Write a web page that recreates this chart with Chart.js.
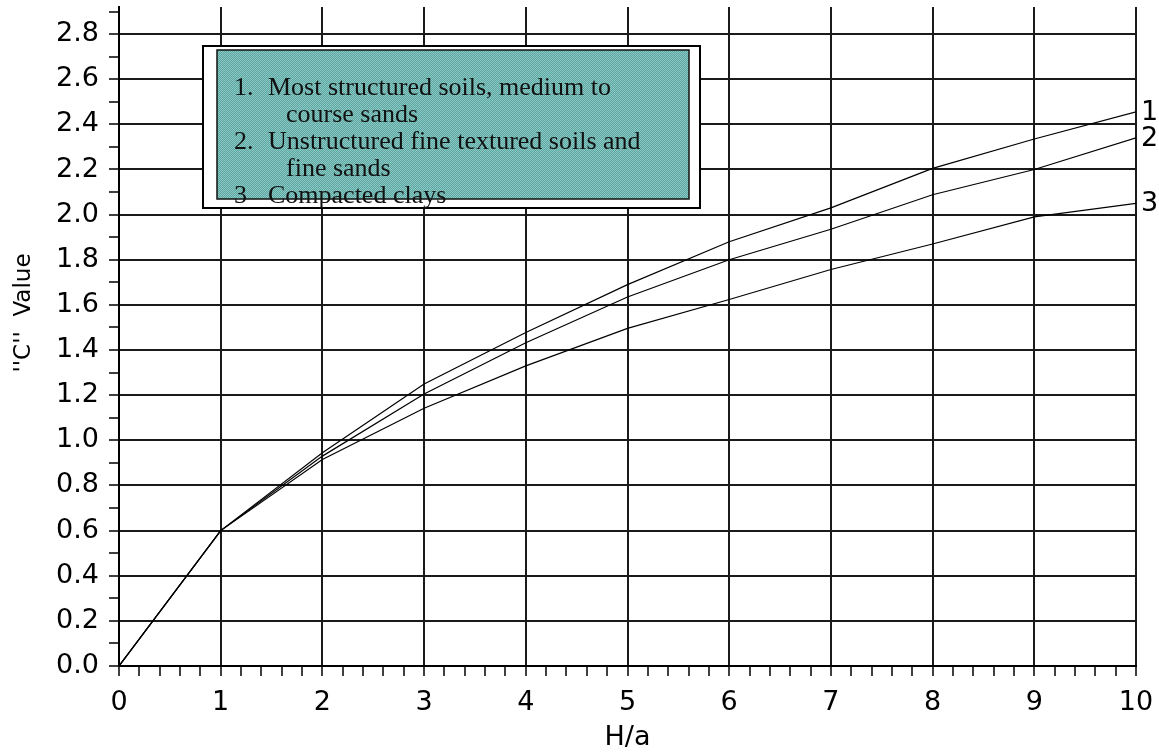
<!DOCTYPE html>
<html>
<head>
<meta charset="utf-8">
<script src="https://cdn.jsdelivr.net/npm/chart.js@4.4.1/dist/chart.umd.min.js"></script>
<style>
html,body{margin:0;padding:0;background:#fff;}
#wrap{width:1159px;height:756px;}
</style>
</head>
<body>
<div id="wrap"><canvas id="c" width="1159" height="756"></canvas></div>
<script>
// ---- data ----
const xValues = [0, 1, 2, 3, 4, 5, 6, 7, 8, 9, 10];
const curve1 = [0, 0.6, 0.945, 1.25, 1.478, 1.69, 1.88, 2.03, 2.205, 2.335, 2.455];
const curve2 = [0, 0.6, 0.93, 1.205, 1.432, 1.635, 1.80, 1.935, 2.088, 2.20, 2.34];
const curve3 = [0, 0.6, 0.915, 1.142, 1.33, 1.496, 1.624, 1.757, 1.87, 1.99, 2.05];
const curveNames = ['1', '2', '3'];
const xTickLabels = ['0','1','2','3','4','5','6','7','8','9','10'];
const yTickLabels = ['0.0','0.2','0.4','0.6','0.8','1.0','1.2','1.4','1.6','1.8','2.0','2.2','2.4','2.6','2.8'];
const xTitle = 'H/a';
const yTitle = '\'\'C\'\'  Value';
const legendLines = [
  {num: '1.', text: 'Most structured soils, medium to'},
  {num: '',   text: 'course sands', indent: true},
  {num: '2.', text: 'Unstructured fine textured soils and'},
  {num: '',   text: 'fine sands', indent: true},
  {num: '3',  text: 'Compacted clays'}
];

const series = [curve1, curve2, curve3];
const datasets = series.map((s, i) => ({
  label: curveNames[i],
  data: xValues.map((x, j) => ({x: x, y: s[j]})),
  borderColor: '#000',
  borderWidth: 1.2,
  pointRadius: 0,
  tension: 0,
  fill: false
}));

const FONT = 'DejaVu Sans';
const isMajor = (v, step) => Math.abs(v / step - Math.round(v / step)) < 1e-6;

const overlay = {
  id: 'overlay',
  afterDraw(chart) {
    const ctx = chart.ctx;
    const xs = chart.scales.x, ys = chart.scales.y;
    ctx.save();
    // curve end labels
    ctx.fillStyle = '#000';
    ctx.font = '27px "' + FONT + '"';
    ctx.textAlign = 'left';
    ctx.textBaseline = 'middle';
    series.forEach((s, i) => {
      const px = xs.getPixelForValue(xValues[xValues.length - 1]);
      const py = ys.getPixelForValue(s[s.length - 1]);
      ctx.fillText(curveNames[i], px + 5, py + 1);
    });
    // axis titles
    ctx.textAlign = 'center';
    ctx.fillText(xTitle, (xs.left + xs.right) / 2, 738);
    ctx.save();
    ctx.translate(24, 313);
    ctx.rotate(-Math.PI / 2);
    ctx.font = '23px "' + FONT + '"';
    ctx.fillText(yTitle, 0, 0);
    ctx.restore();

    // legend box
    ctx.fillStyle = '#fff';
    ctx.fillRect(203, 46, 497, 162);
    ctx.strokeStyle = '#000';
    ctx.lineWidth = 2;
    ctx.strokeRect(203, 46, 497, 162);
    const pc = document.createElement('canvas');
    pc.width = 2; pc.height = 2;
    const p = pc.getContext('2d');
    p.fillStyle = '#8acbc6'; p.fillRect(0, 0, 2, 2);
    p.fillStyle = '#5da4a0'; p.fillRect(1, 0, 1, 1); p.fillRect(0, 1, 1, 1);
    ctx.fillStyle = ctx.createPattern(pc, 'repeat');
    ctx.fillRect(217, 50, 472, 149);
    ctx.lineWidth = 1.5;
    ctx.strokeStyle = '#111';
    ctx.strokeRect(217, 50, 472, 149);
    ctx.fillStyle = '#111';
    ctx.font = '26px "Liberation Serif"';
    ctx.textAlign = 'left';
    ctx.textBaseline = 'alphabetic';
    legendLines.forEach((l, i) => {
      const by = 95 + i * 27;
      if (l.num) ctx.fillText(l.num, 234, by);
      ctx.fillText(l.text, l.indent ? 286 : 268, by);
    });
    ctx.restore();
  }
};

new Chart(document.getElementById('c'), {
  type: 'line',
  data: {datasets: datasets},
  options: {
    responsive: false,
    animation: false,
    devicePixelRatio: 1,
    layout: {padding: {top: 7, right: 23, left: 0, bottom: 0}},
    plugins: {legend: {display: false}, tooltip: {enabled: false}},
    scales: {
      x: {
        type: 'linear', min: 0, max: 10,
        afterBuildTicks: (sc) => {
          const t = [];
          for (let k = 0; k <= 50; k++) t.push({value: Math.round(k * 0.2 * 1000) / 1000});
          sc.ticks = t;
        },
        afterFit: (sc) => { sc.height = 90; sc.paddingLeft = 0; sc.paddingRight = 0; },
        ticks: {
          autoSkip: false, maxRotation: 0, padding: 11, color: '#000',
          font: {family: FONT, size: 27},
          callback: (v) => isMajor(v, 1) ? xTickLabels[Math.round(v)] : ''
        },
        grid: {
          color: (c) => isMajor(c.tick.value, 1) ? '#1a1a1a' : 'rgba(0,0,0,0)',
          lineWidth: 2, drawTicks: true, tickLength: 10, tickColor: '#000', tickWidth: 1.5
        },
        border: {display: true, color: '#000', width: 2}
      },
      y: {
        type: 'linear', min: 0, max: 2.92,
        afterBuildTicks: (sc) => {
          const t = [];
          for (let k = 0; k <= 29; k++) t.push({value: Math.round(k * 0.1 * 1000) / 1000});
          sc.ticks = t;
        },
        afterFit: (sc) => { sc.width = 119; sc.paddingTop = 0; sc.paddingBottom = 0; },
        ticks: {
          autoSkip: false, padding: 10, color: '#000',
          font: {family: FONT, size: 27},
          callback: (v) => isMajor(v, 0.2) ? yTickLabels[Math.round(v / 0.2)] : ''
        },
        grid: {
          color: (c) => isMajor(c.tick.value, 0.2) ? '#1a1a1a' : 'rgba(0,0,0,0)',
          lineWidth: 2, drawTicks: true, tickLength: 10, tickColor: '#000', tickWidth: 1.5
        },
        border: {display: true, color: '#000', width: 2}
      }
    }
  },
  plugins: [overlay]
});
</script>
</body>
</html>
